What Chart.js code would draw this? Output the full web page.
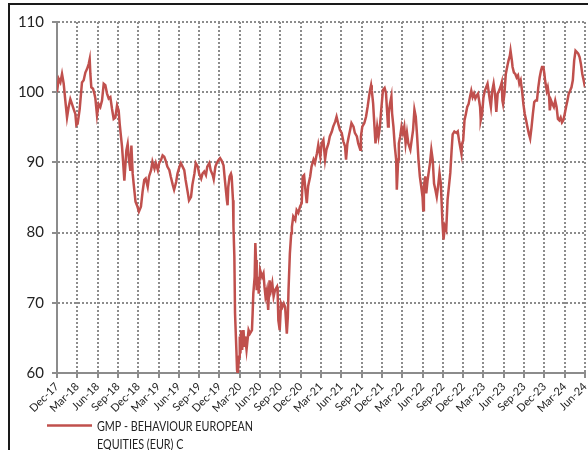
<!DOCTYPE html>
<html>
<head>
<meta charset="utf-8">
<script src="https://cdn.jsdelivr.net/npm/chart.js@4/dist/chart.umd.min.js"></script>
<style>
  html, body { margin: 0; padding: 0; background: #fff; }
  #wrap { position: relative; width: 588px; height: 450px; overflow: hidden; }
  #frame { position: absolute; left: 8px; top: 3px; right: -10px; bottom: -10px;
           border-left: 2px solid #1a1a1a; border-top: 2px solid #1a1a1a; }
  canvas { position: absolute; left: 0; top: 0; }
</style>
</head>
<body>
<div id="wrap">
  <div id="frame"></div>
  <canvas id="navChart" width="588" height="450"></canvas>
</div>
<script>
// x = months since Dec-17, one tick label per quarter
const tickLabels = ['Dec-17','Mar-18','Jun-18','Sep-18','Dec-18','Mar-19','Jun-19','Sep-19','Dec-19',
  'Mar-20','Jun-20','Sep-20','Dec-20','Mar-21','Jun-21','Sep-21','Dec-21','Mar-22','Jun-22','Sep-22',
  'Dec-22','Mar-23','Jun-23','Sep-23','Dec-23','Mar-24','Jun-24'];

const legendLines = ['GMP - BEHAVIOUR EUROPEAN', 'EQUITIES (EUR) C'];

const navMonths = [
  0,0.25,0.5,0.74,0.99,1.23,1.48,1.72,1.97,2.22,2.46,2.71,2.86,3.05,3.35,3.69,3.94,4.19,4.43,4.68,
  4.83,4.93,5.07,5.32,5.52,5.67,5.91,6.16,6.4,6.65,6.9,7.14,7.39,7.64,7.88,8.13,8.37,8.62,8.87,9.11,
  9.26,9.46,9.61,9.75,9.95,10.25,10.44,10.64,10.84,10.99,11.18,11.33,11.6,11.85,12.1,12.4,12.64,12.89,13.1,13.4,
  13.6,13.9,14.1,14.4,14.6,14.9,15.1,15.35,15.6,15.84,16.1,16.3,16.6,16.8,17.1,17.3,17.6,17.8,18.1,18.3,
  18.55,18.8,19.0,19.3,19.5,19.8,20.0,20.3,20.5,20.8,21.0,21.3,21.5,21.75,22.0,22.2,22.5,22.7,23.0,23.15,
  23.4,23.6,23.85,24.1,24.3,24.6,24.8,25.1,25.2,25.3,25.5,25.7,25.8,26.0,26.07,26.2,26.3,26.5,26.6,26.7,
  26.9,27.0,27.1,27.2,27.35,27.55,27.7,27.8,28.0,28.3,28.5,28.8,28.9,29.0,29.2,29.3,29.4,29.5,29.7,29.8,
  30.0,30.3,30.5,30.65,30.8,31.0,31.2,31.4,31.6,31.8,32.0,32.2,32.5,32.6,32.7,32.9,33.1,33.3,33.5,33.7,
  33.95,34.1,34.2,34.4,34.6,34.7,34.9,35.2,35.4,35.65,35.9,36.15,36.3,36.5,36.7,36.9,37.1,37.4,37.6,37.9,
  38.1,38.4,38.6,38.9,39.1,39.35,39.6,39.8,40.1,40.3,40.6,40.8,41.1,41.3,41.6,41.8,42.06,42.3,42.55,42.7,
  42.9,43.1,43.3,43.5,43.8,44.0,44.3,44.5,44.8,44.9,45.1,45.4,45.65,45.9,46.1,46.25,46.4,46.5,46.7,46.9,
  47.05,47.3,47.5,47.7,47.9,48.15,48.4,48.6,48.9,49.0,49.2,49.4,49.5,49.7,49.9,50.1,50.2,50.4,50.5,50.7,
  50.9,51.1,51.3,51.5,51.7,51.9,52.2,52.4,52.6,52.8,53.0,53.2,53.4,53.6,53.8,54.0,54.1,54.2,54.4,54.55,
  54.75,54.9,55.1,55.3,55.5,55.7,55.9,56.1,56.3,56.5,56.7,56.8,56.95,57.1,57.3,57.5,57.7,57.9,58.1,58.3,
  58.45,58.7,59.0,59.2,59.4,59.6,59.75,59.85,60.0,60.2,60.4,60.6,60.8,61.0,61.2,61.4,61.6,61.8,62.0,62.2,
  62.5,62.6,62.8,63.0,63.2,63.4,63.6,63.75,63.95,64.1,64.3,64.5,64.7,64.9,65.1,65.3,65.5,65.7,65.8,65.9,
  66.1,66.3,66.5,66.7,66.9,67.0,67.2,67.3,67.5,67.7,67.9,68.1,68.3,68.5,68.7,68.9,69.1,69.3,69.5,69.7,
  69.9,70.1,70.3,70.5,70.7,70.9,71.1,71.3,71.5,71.65,71.85,72.0,72.1,72.35,72.5,72.7,72.8,73.0,73.2,73.4,
  73.6,73.8,74.0,74.2,74.4,74.6,74.8,75.0,75.2,75.4,75.6,75.8,76.0,76.2,76.4,76.6,76.8,77.0,77.2,77.4,
  77.6,77.8,78.0
];

const navValues = [
  100.0,101.9,101.4,102.6,101.2,98.8,96.4,97.9,99.0,98.3,97.6,96.9,95.3,95.5,97.6,101.4,101.7,102.8,103.3,104.0,
  104.7,102.6,100.7,100.5,99.8,99.1,96.7,98.3,97.9,98.8,101.2,101.0,99.8,99.1,99.3,97.6,96.2,96.4,98.1,97.4,
  95.5,93.6,92.2,90.3,87.4,91.7,92.6,90.3,88.8,92.4,88.4,86.9,84.4,83.8,83.0,83.7,85.8,87.5,87.7,86.5,
  88.0,88.9,90.1,89.1,89.9,88.9,89.9,90.3,91.0,90.8,90.1,89.4,88.9,88.0,86.8,86.1,87.2,88.4,89.4,89.9,
  89.4,88.9,87.5,85.8,84.6,85.1,86.8,88.4,89.9,89.4,88.4,87.7,88.4,88.7,88.2,89.4,89.9,88.9,88.2,87.6,
  89.4,89.9,90.3,90.6,90.3,89.6,87.5,84.6,83.9,86.5,88.0,88.4,88.0,84.6,80.8,76.6,68.5,63.3,60.4,59.9,
  62.3,65.2,62.8,66.1,63.3,66.1,63.7,65.2,63.3,66.1,65.6,66.1,68.5,71.3,73.7,78.5,76.1,71.8,73.7,71.3,
  74.7,73.7,74.2,72.3,70.9,71.8,69.0,73.2,71.8,72.8,70.9,71.8,72.3,71.3,67.5,66.1,69.9,69.4,69.9,69.4,
  65.6,68.0,71.8,77.0,79.9,80.8,82.3,81.8,83.2,82.8,83.7,84.2,88.0,88.2,86.1,84.2,86.6,88.0,89.4,90.4,
  89.9,91.3,92.5,90.8,92.7,93.2,90.4,91.8,92.7,93.7,94.4,95.1,95.8,96.5,95.3,94.6,94.2,93.0,92.3,90.4,
  92.7,93.7,94.6,95.6,95.1,94.2,93.7,92.7,91.8,93.7,95.1,95.6,96.5,98.0,99.4,100.3,101.0,100.3,98.4,95.1,
  92.7,95.1,93.7,95.1,97.5,100.3,100.6,99.9,95.1,97.0,98.4,99.4,97.0,95.1,92.3,90.4,86.1,90.4,92.7,93.7,
  95.1,94.2,95.1,92.7,94.2,92.7,91.8,93.2,94.6,97.5,96.5,93.7,90.4,88.0,86.6,85.1,83.2,86.6,88.0,85.6,
  87.5,88.5,89.9,91.8,90.4,87.0,86.1,85.1,86.6,88.5,87.0,84.7,81.3,79.0,80.9,80.4,84.7,86.6,88.5,91.8,
  94.0,94.4,94.2,94.4,93.1,92.0,91.2,92.7,93.1,96.0,96.9,97.9,98.3,99.3,100.2,99.3,99.8,99.1,99.5,99.8,
  97.9,96.0,96.9,99.3,100.2,100.7,101.2,100.2,98.8,97.9,100.2,101.2,99.8,97.2,99.8,100.2,100.7,101.4,98.8,98.3,
  99.8,102.6,103.6,104.5,105.2,105.9,104.5,103.6,102.8,102.6,102.1,102.4,101.2,101.7,100.2,98.3,96.9,96.0,95.0,94.1,
  93.4,95.0,96.9,98.6,98.8,98.8,100.7,102.1,103.1,103.6,103.6,102.6,101.7,100.2,100.7,99.3,97.4,98.8,98.3,97.9,
  98.8,97.9,96.2,96.0,96.4,95.7,96.0,96.9,97.9,98.8,99.8,100.2,100.7,101.7,104.5,105.9,105.7,105.5,105.0,104.0,
  102.6,101.7,100.7
];

const fontFamily = 'Lato, "Open Sans", sans-serif';
const gridGrey = '#8c8c8c';

// draws the wrapped two-line legend under the x labels
const wrappedLegend = {
  id: 'wrappedLegend',
  afterDraw(chart) {
    const ctx = chart.ctx;
    const ds = chart.data.datasets[0];
    ctx.save();
    ctx.strokeStyle = ds.borderColor;
    ctx.lineWidth = 2.5;
    ctx.beginPath();
    ctx.moveTo(47, 425.5);
    ctx.lineTo(92, 425.5);
    ctx.stroke();
    ctx.fillStyle = '#222';
    ctx.font = '14px ' + fontFamily;
    ctx.textBaseline = 'middle';
    // squeeze the text a little so it takes the width of the original narrow font
    const squeeze = 156 / ctx.measureText(legendLines[0]).width;
    legendLines.forEach((t, i) => {
      ctx.fillText(t, 97, 426 + i * 18, ctx.measureText(t).width * squeeze);
    });
    ctx.restore();
  }
};

const ctx = document.getElementById('navChart').getContext('2d');
new Chart(ctx, {
  type: 'line',
  data: {
    datasets: [{
      label: legendLines.join(' '),
      data: navMonths.map((m, i) => ({ x: m, y: navValues[i] })),
      borderColor: '#c0504d',
      borderWidth: 2.5,
      pointRadius: 0,
      tension: 0,
      fill: false
    }]
  },
  options: {
    responsive: false,
    animation: false,
    events: [],
    layout: { padding: { top: 22, right: 3, bottom: 0, left: 0 } },
    plugins: { legend: { display: false }, tooltip: { enabled: false } },
    scales: {
      x: {
        type: 'linear',
        min: 0,
        max: 78,
        afterBuildTicks: (s) => {
          s.ticks = tickLabels.map((_, i) => ({ value: i * 3 }));
        },
        afterFit: (s) => {
          s.height = 77;
          s.paddingLeft = 0;
          s.paddingRight = 0;
        },
        grid: { color: gridGrey, lineWidth: 2, tickLength: 5, tickColor: gridGrey, tickWidth: 2, tickBorderDash: [] },
        border: { display: true, color: gridGrey, width: 2, dash: [2, 2] },
        ticks: {
          autoSkip: false,
          maxRotation: 45,
          minRotation: 45,
          padding: 2,
          color: '#222',
          font: { family: fontFamily, size: 11 },
          callback: (v) => tickLabels[Math.round(v / 3)]
        }
      },
      y: {
        min: 60,
        max: 110,
        afterFit: (s) => { s.width = 57; },
        grid: { color: gridGrey, lineWidth: 2, tickLength: 5, tickColor: gridGrey, tickWidth: 2, tickBorderDash: [] },
        border: { display: true, color: gridGrey, width: 2, dash: [2, 2] },
        ticks: {
          stepSize: 10,
          padding: 8,
          color: '#222',
          font: { family: fontFamily, size: 15 }
        }
      }
    }
  },
  plugins: [wrappedLegend]
});
</script>
</body>
</html>
